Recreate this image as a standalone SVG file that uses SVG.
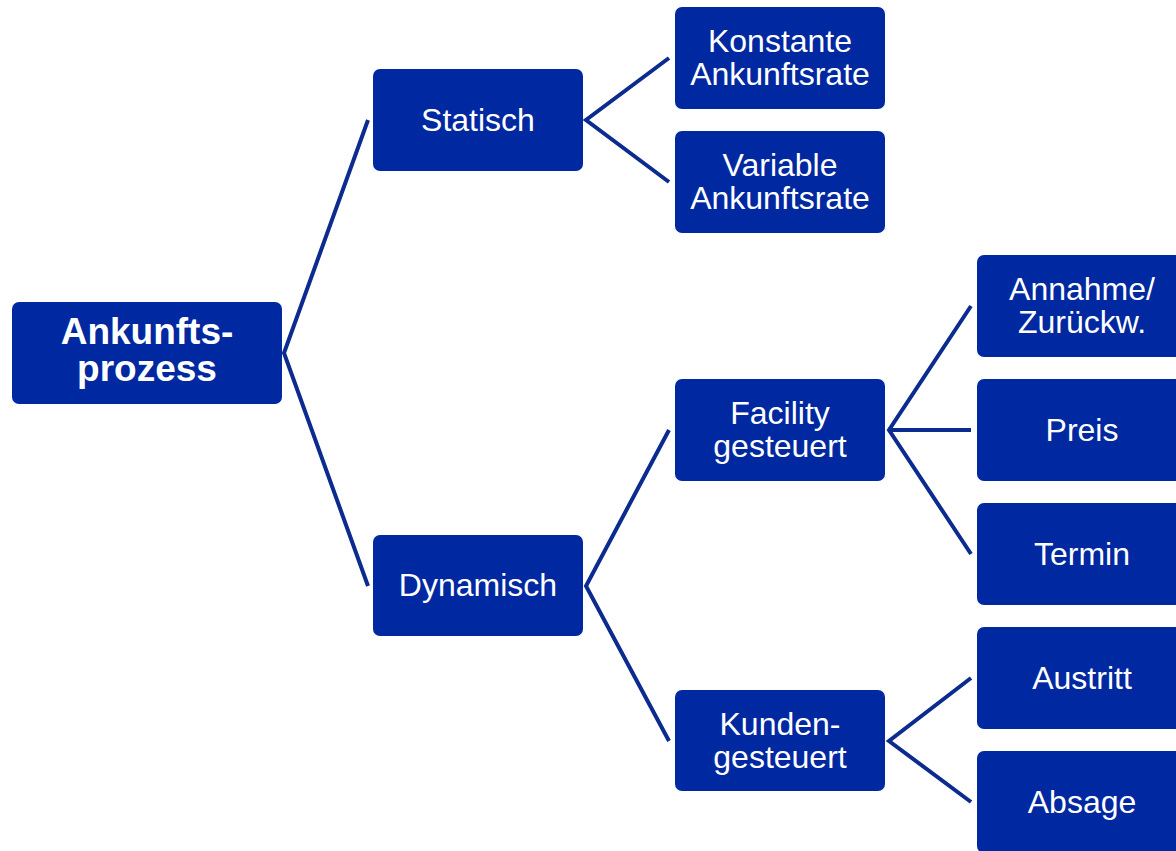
<svg xmlns="http://www.w3.org/2000/svg" width="1176" height="851" viewBox="0 0 1176 851">
<style>
.b{fill:#0028A0}
.t{fill:#fff;font-family:"Liberation Sans",Arial,sans-serif;font-size:32px;text-anchor:middle}
.r{font-size:37px;font-weight:bold}
.c{stroke:#0B2B8E;stroke-width:4;fill:none}
</style>
<rect width="1176" height="851" fill="#fff"/>
<g id="connectors" class="c">
<path d="M368,120 L284,353 L368,586"/>
<path d="M669,58 L586,120 L669,182"/>
<path d="M669,430 L586,586 L669,741"/>
<path d="M971,306 L889,430 L971,554 M889,430 L971,430"/>
<path d="M971,678 L889,741 L971,802"/>
</g>
<g id="root"><rect class="b" x="12" y="302" width="270" height="102" rx="7"/><text class="t r" x="147" y="344">Ankunfts-</text><text class="t r" x="147" y="381">prozess</text></g>
<g id="statisch"><rect class="b" x="373" y="69" width="210" height="102" rx="7"/><text class="t" x="478" y="131">Statisch</text></g>
<g id="dynamisch"><rect class="b" x="373" y="535" width="210" height="101" rx="7"/><text class="t" x="478" y="596">Dynamisch</text></g>
<g id="konstante"><rect class="b" x="675" y="7" width="210" height="102" rx="7"/><text class="t" x="780" y="52">Konstante</text><text class="t" x="780" y="85">Ankunftsrate</text></g>
<g id="variable"><rect class="b" x="675" y="131" width="210" height="102" rx="7"/><text class="t" x="780" y="176">Variable</text><text class="t" x="780" y="209">Ankunftsrate</text></g>
<g id="facility"><rect class="b" x="675" y="379" width="210" height="102" rx="7"/><text class="t" x="780" y="424">Facility</text><text class="t" x="780" y="457">gesteuert</text></g>
<g id="kunden"><rect class="b" x="675" y="690" width="210" height="101" rx="7"/><text class="t" x="780" y="735">Kunden-</text><text class="t" x="780" y="768">gesteuert</text></g>
<g id="annahme"><rect class="b" x="977" y="255" width="210" height="102" rx="7"/><text class="t" x="1082" y="300">Annahme/</text><text class="t" x="1082" y="333">Zurückw.</text></g>
<g id="preis"><rect class="b" x="977" y="379" width="210" height="102" rx="7"/><text class="t" x="1082" y="441">Preis</text></g>
<g id="termin"><rect class="b" x="977" y="503" width="210" height="102" rx="7"/><text class="t" x="1082" y="565">Termin</text></g>
<g id="austritt"><rect class="b" x="977" y="627" width="210" height="102" rx="7"/><text class="t" x="1082" y="689">Austritt</text></g>
<g id="absage"><rect class="b" x="977" y="751" width="210" height="102" rx="7"/><text class="t" x="1082" y="813">Absage</text></g>
</svg>
